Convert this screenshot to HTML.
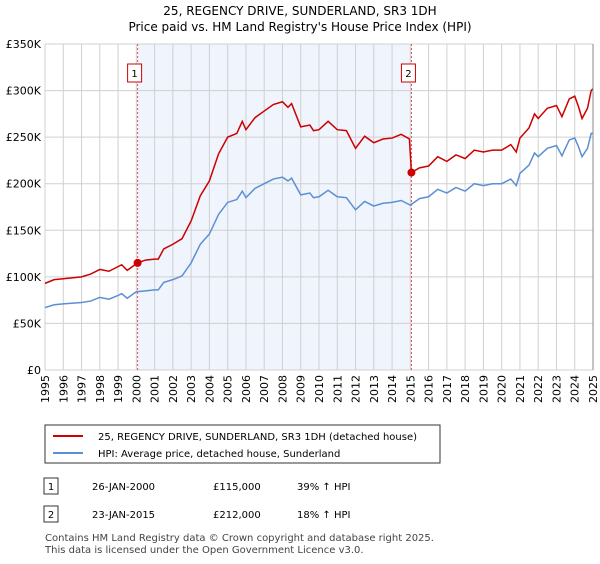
<!DOCTYPE html>
<html><head><meta charset="utf-8"><style>
body{margin:0;background:#fff;font-family:"DejaVu Sans","Liberation Sans",sans-serif;}
svg text{font-family:"DejaVu Sans","Liberation Sans",sans-serif;}
</style></head><body>
<svg id="chart" width="600" height="560" xmlns="http://www.w3.org/2000/svg">
<text x="300" y="15" text-anchor="middle" font-size="12">25, REGENCY DRIVE, SUNDERLAND, SR3 1DH</text>
<text x="300" y="31" text-anchor="middle" font-size="12">Price paid vs. HM Land Registry's House Price Index (HPI)</text>
<g id="plot"></g>
<g>
<rect x="45" y="425" width="395" height="38" fill="#fff" stroke="#333" stroke-width="1"/>
<line x1="53" y1="436" x2="83" y2="436" stroke="#cc0000" stroke-width="2"/>
<text x="98" y="440" font-size="10">25, REGENCY DRIVE, SUNDERLAND, SR3 1DH (detached house)</text>
<line x1="53" y1="453" x2="83" y2="453" stroke="#5b8fd4" stroke-width="2"/>
<text x="98" y="457" font-size="10">HPI: Average price, detached house, Sunderland</text>
</g>
<g font-size="10">
<rect x="44" y="478" width="14" height="16" fill="#fff" stroke="#333"/>
<text x="51" y="490" text-anchor="middle">1</text>
<text x="92" y="490">26-JAN-2000</text>
<text x="213" y="490">£115,000</text>
<text x="297" y="490">39% ↑ HPI</text>
<rect x="44" y="506" width="14" height="16" fill="#fff" stroke="#333"/>
<text x="51" y="518" text-anchor="middle">2</text>
<text x="92" y="518">23-JAN-2015</text>
<text x="213" y="518">£212,000</text>
<text x="297" y="518">18% ↑ HPI</text>
</g>
<text x="45" y="541" font-size="10" fill="#444">Contains HM Land Registry data © Crown copyright and database right 2025.</text>
<text x="45" y="553" font-size="10" fill="#444">This data is licensed under the Open Government Licence v3.0.</text>
</svg>
<script>
const hpiYears=[1995,1995.5,1996,1997,1997.5,1998,1998.5,1999,1999.2,1999.5,2000,2000.5,2001,2001.2,2001.5,2002,2002.5,2003,2003.5,2004,2004.5,2005,2005.5,2005.8,2006,2006.5,2007,2007.5,2008,2008.3,2008.5,2009,2009.5,2009.7,2010,2010.5,2011,2011.5,2012,2012.5,2013,2013.5,2014,2014.5,2015,2015.5,2016,2016.5,2017,2017.5,2018,2018.5,2019,2019.5,2020,2020.5,2020.8,2021,2021.5,2021.8,2022,2022.5,2023,2023.3,2023.7,2024,2024.2,2024.4,2024.7,2024.9,2025];
const hpiValues=[67,70,71,72.5,74,78,76,80,82,77,84,85,86,86,94,97,101,115,135,146,167,180,183,192,185,195,200,205,207,203,206,188,190,185,186,193,186,185,172,181,176,179,180,182,177,184,186,194,190,196,192,200,198,200,200,205,198,211,220,233,229,238,241,230,247,249,240,229,238,254,254];
const redYears=[1995,1995.5,1996,1997,1997.5,1998,1998.5,1999,1999.2,1999.5,2000.07,2000.5,2001,2001.2,2001.5,2002,2002.5,2003,2003.5,2004,2004.5,2005,2005.5,2005.8,2006,2006.5,2007,2007.5,2008,2008.3,2008.5,2009,2009.5,2009.7,2010,2010.5,2011,2011.5,2012,2012.5,2013,2013.5,2014,2014.5,2014.95,2015.06,2015.5,2016,2016.5,2017,2017.5,2018,2018.5,2019,2019.5,2020,2020.5,2020.8,2021,2021.5,2021.8,2022,2022.5,2023,2023.3,2023.7,2024,2024.2,2024.4,2024.7,2024.9,2025];
const redValues=[93,97,98,100,103,108,106,111,113,107,115,118,119,119,130,135,141,160,187,203,232,250,254,267,258,271,278,285,288,282,286,261,263,257,258,267,258,257,238,251,244,248,249,253,248,212,217,219,229,224,231,227,236,234,236,236,242,234,249,260,275,270,281,284,272,291,294,283,270,281,300,302];
const saleYears=[2000.07,2015.06];
const saleValues=[115,212];
const saleLabels=["1","2"];
const yTicks=[0,50,100,150,200,250,300,350];
const yTickLabels=["£0","£50K","£100K","£150K","£200K","£250K","£300K","£350K"];
const xTicks=[1995,1996,1997,1998,1999,2000,2001,2002,2003,2004,2005,2006,2007,2008,2009,2010,2011,2012,2013,2014,2015,2016,2017,2018,2019,2020,2021,2022,2023,2024,2025];

const X0=45,X1=593,Y0=370,Y1=44;
const xs=y=>X0+(y-1995)/30*(X1-X0);
const ys=v=>Y0-v/350*(Y0-Y1);
const NS="http://www.w3.org/2000/svg";
const g=document.getElementById('plot');
function mk(t,a){const e=document.createElementNS(NS,t);for(const k in a)e.setAttribute(k,a[k]);g.appendChild(e);return e;}
let e;
e=mk('rect',{x:xs(saleYears[0]),y:Y1,width:xs(saleYears[1])-xs(saleYears[0]),height:Y0-Y1,fill:'#f0f4fc'});


xTicks.forEach(t=>{
 e=mk('line',{x1:xs(t),x2:xs(t),y1:Y1,y2:Y0,stroke:'#d0d0d0','stroke-width':1});
 
 
 e=mk('text',{x:0,y:0,'font-size':11,'text-anchor':'end',transform:`translate(${xs(t)+4},${Y0+5}) rotate(-90)`});
 e.textContent=t;
 
 
});
yTicks.forEach((t,i)=>{
 e=mk('line',{x1:X0,x2:X1,y1:ys(t),y2:ys(t),stroke:'#d0d0d0','stroke-width':1});
 
 
 e=mk('text',{x:X0-4,y:ys(t)+4,'font-size':11,'text-anchor':'end'});
 e.textContent=yTickLabels[i];
 
 
});
saleYears.forEach((s,i)=>{
 e=mk('line',{x1:xs(s),x2:xs(s),y1:Y1,y2:Y0,stroke:'#e05050','stroke-width':1,'stroke-dasharray':'2,2'});
 
 
 e=mk('rect',{x:xs(s)-10,y:64,width:14,height:18,fill:'#fff',stroke:'#cc0000'});
 
 
 e=mk('text',{x:xs(s)-3,y:77,'font-size':10,'text-anchor':'middle'});
 e.textContent=saleLabels[i];
 
 
});
e=mk('polyline',{points:hpiYears.map((y,i)=>xs(y)+','+ys(hpiValues[i])).join(' '),fill:'none',stroke:'#5b8fd4','stroke-width':1.5});


e=mk('polyline',{points:redYears.map((y,i)=>xs(y)+','+ys(redValues[i])).join(' '),fill:'none',stroke:'#cc0000','stroke-width':1.5});


saleYears.forEach((s,i)=>{
 e=mk('circle',{cx:xs(s),cy:ys(saleValues[i]),r:4,fill:'#cc0000'});
 
 
});
e=mk('line',{x1:X1,x2:X1,y1:Y1,y2:Y0,stroke:'#888','stroke-width':1});


</script>
</body></html>
